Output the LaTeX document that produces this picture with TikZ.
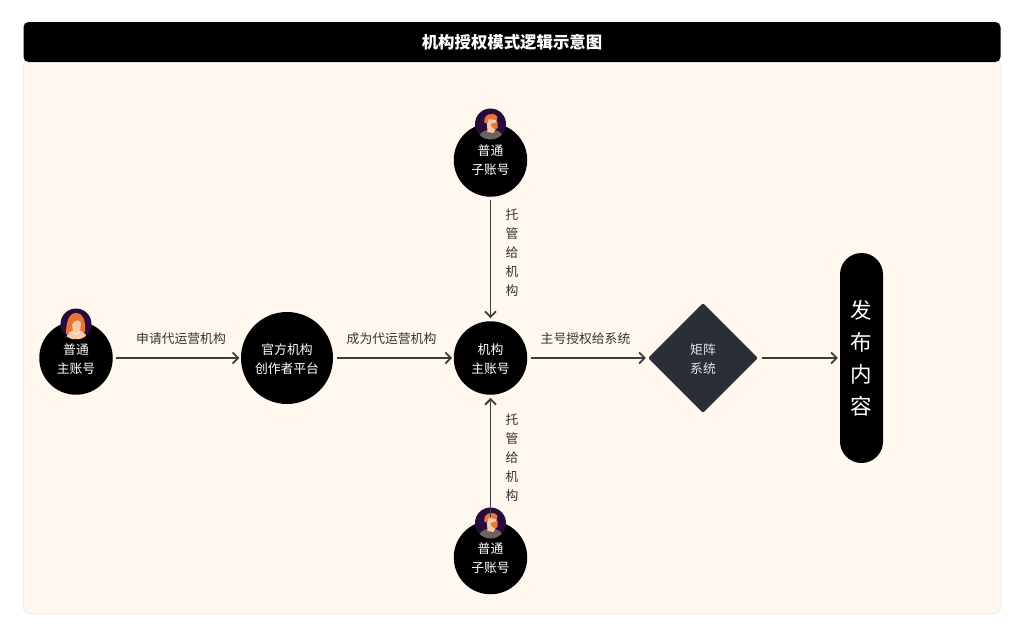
\documentclass[tikz,border=0pt]{standalone}
\usepackage{fontspec}
\setmainfont{Noto Sans CJK SC}
\usetikzlibrary{arrows.meta,shapes.geometric}
\definecolor{panelbg}{HTML}{FFF8EE}
\definecolor{panelln}{HTML}{F2EEE8}
\definecolor{dia}{HTML}{2B2E37}
\definecolor{lnk}{HTML}{3C3C40}
\definecolor{labc}{HTML}{333333}
\definecolor{avbg}{HTML}{2A0A3A}
\definecolor{hairor}{HTML}{E8743A}
\definecolor{skin}{HTML}{F7C9A8}
\definecolor{shirt}{HTML}{6E625C}
\definecolor{white2}{HTML}{FBE6D6}
\tikzset{
  x=1pt,y=-1pt,
  circ/.style={circle,fill=black,minimum size=73.5pt,inner sep=0pt,text=white,font=\fontsize{12.8}{19}\selectfont,align=center},
  circb/.style={circ,minimum size=92pt},
  link/.style={draw=lnk,line width=1.8pt,-{Straight Barb[length=5.5pt,width=11pt,line width=1.8pt]}},
  lab/.style={text=labc,font=\fontsize{12.8}{19}\selectfont,inner sep=0pt,align=center},
}
\newcommand{\womanav}[1]{%
  \begin{scope}[shift={(#1)}]
    \fill[avbg] (0,0) circle (15.5);
    \begin{scope}
      \clip (0,0) circle (15.5);
      \fill[hairor] (-10,10) .. controls (-10,0) and (-8,-11) .. (0,-11) .. controls (7,-11) and (10,-3) .. (9,8) -- cycle;
      \fill[skin] (-10,15) .. controls (-9,8) and (-4,6) .. (0,6) .. controls (5,6) and (10,8) .. (11,15) -- cycle;
      \fill[skin] (-3,7) -- (-4,0) .. controls (-4,-6) and (4,-6) .. (5,-1) -- (4,7) -- cycle;
      \fill[hairor] (-5,2) .. controls (-5,-7) and (3,-9) .. (5,-2) .. controls (2,-5) and (-2,-4) .. (-5,2) -- cycle;
      \fill[white2] (-3,7) -- (0,9.5) -- (4,7) -- (4,9) -- (0,11) -- (-3,9) -- cycle;
    \end{scope}
  \end{scope}}
\newcommand{\manav}[1]{%
  \begin{scope}[shift={(#1)}]
    \fill[avbg] (0,0) circle (15.5);
    \begin{scope}
      \clip (0,0) circle (15.5);
      \fill[shirt] (-13,16) .. controls (-12,9) and (-6,6) .. (-2,6) -- (3,6) .. controls (8,6) and (12,9) .. (13,16) -- cycle;
      \fill[skin] (-4,-6) -- (6,-6) -- (6,3) -- (3,9) -- (-3,8) -- cycle;
      \fill[hairor] (-6,-1) .. controls (-8,-10) and (3,-13) .. (7,-7) -- (6,-4) -- (-2,-5) -- (-3,-1) -- cycle;
      \fill[hairor] (0,0) -- (7,-2) -- (7,4) .. controls (5,6) and (1,5) .. (0,0) -- cycle;
    \end{scope}
  \end{scope}}
\begin{document}
\begin{tikzpicture}
\useasboundingbox (0,0) rectangle (1024,637);
\fill[white] (0,0) rectangle (1024,637);
% panel
\path[fill=panelbg,draw=panelln,line width=1pt,rounded corners=5pt] (23.5,60) rectangle (1000.5,613.5);
% title
\node[fill=black,rounded corners=5pt,minimum width=977pt,minimum height=40pt,inner sep=0pt,text=white,font=\fontsize{16.4}{18}\selectfont\bfseries] (title) at (512,42) {机构授权模式逻辑示意图};
% nodes
\node[circ] (user) at (76,358) {};
\node[circb] (plat) at (287,358) {};
\node[circ] (org) at (490.5,358) {};
\node[circ] (top) at (490.5,160) {};
\node[circ] (bot) at (490.5,557.5) {};
\node[diamond,fill=dia,rounded corners=2pt,minimum width=110pt,minimum height=110pt,inner sep=0pt] (mat) at (703,358) {};
\node[fill=black,rounded corners=21.5pt,minimum width=43pt,minimum height=210pt,inner sep=0pt] (pub) at (861.5,358) {};
% avatars
\womanav{76,324}
\manav{490.5,124}
\manav{490.5,523}
% texts of the shapes
\node[circ,fill=none] (userT) at (76,359) {普通\\主账号};
\node[circ,fill=none] (platT) at (287,359) {官方机构\\创作者平台};
\node[circ,fill=none] (orgT) at (490.5,359) {机构\\主账号};
\node[circ,fill=none] (topT) at (490.5,160) {普通\\子账号};
\node[circ,fill=none] (botT) at (490.5,558) {普通\\子账号};
\node[inner sep=0pt,text=white!88!dia,font=\fontsize{12.8}{19}\selectfont,align=center] (matT) at (703,359) {矩阵\\系统};
\node[inner sep=0pt,text=white,font=\fontsize{21.5}{32}\selectfont,align=center] (pubT) at (861.5,358) {发\\布\\内\\容};
% connectors
\draw[link,shorten <=3.5pt,shorten >=1.5pt] (user) -- (plat);
\draw[link,shorten <=3.5pt,shorten >=1.5pt] (plat) -- (org);
\draw[link,shorten <=3.5pt,shorten >=2pt] (org) -- (mat);
\draw[link,shorten <=3.5pt,shorten >=2pt] (mat) -- (pub);
\draw[link,shorten <=3.5pt,shorten >=3pt] (top) -- (org);
\draw[link,shorten <=3.5pt,shorten >=3pt] (bot) -- (org);
% labels
\node[lab] (l1) at (181,339) {申请代运营机构};
\node[lab] (l2) at (391.5,339) {成为代运营机构};
\node[lab] (l3) at (585.5,339) {主号授权给系统};
\node[lab] (l4) at (512,252.5) {托\\管\\给\\机\\构};
\node[lab] (l5) at (512,457.5) {托\\管\\给\\机\\构};
\end{tikzpicture}
\end{document}
